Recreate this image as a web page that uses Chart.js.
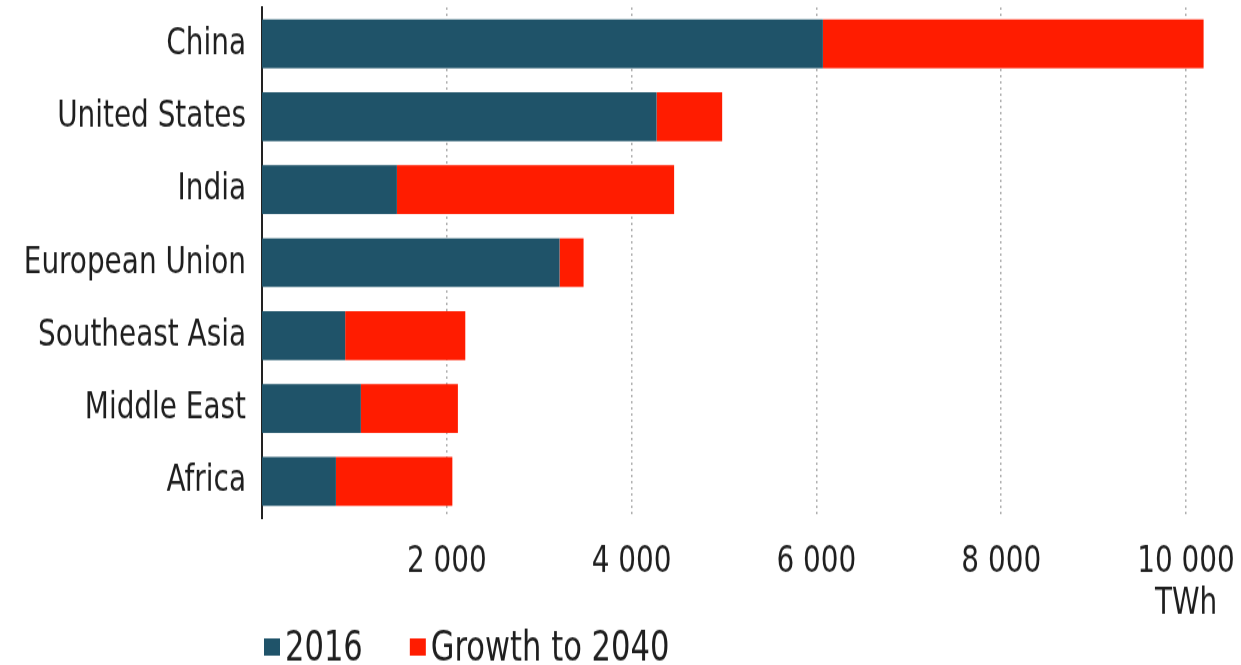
<!DOCTYPE html>
<html>
<head>
<meta charset="utf-8">
<script src="https://cdn.jsdelivr.net/npm/chart.js@4"></script>
<style>
  html, body { margin: 0; padding: 0; background: #fff; }
  #page { width: 1241px; height: 665px; }
  /* the chart is drawn a little short and stretched tall, like the printed figure */
  #wrap { width: 1241px; height: 541px; transform: scaleY(1.23); transform-origin: 0 0; }
  canvas { display: block; }
</style>
</head>
<body>
<div id="page"><div id="wrap"><canvas id="chart" width="1241" height="541"></canvas></div></div>
<script>
// Electricity demand by region, TWh
const regions = ['China', 'United States', 'India', 'European Union', 'Southeast Asia', 'Middle East', 'Africa'];
const demand2016 = [6070, 4270, 1460, 3220, 900, 1070, 800];
const growthTo2040 = [4120, 710, 3000, 260, 1300, 1050, 1260];
const xTicks = [2000, 4000, 6000, 8000, 10000];
const unitLabel = 'TWh';

const FONT = "'DejaVu Sans Condensed', 'Liberation Sans', sans-serif";
const FONT_SIZE = 31;
const LEGEND_SIZE = 34;
const TEXT = '#1e1e1e';

function fmt(v) {
    return String(v).replace(/\B(?=(\d{3})+$)/g, ' ');
}

// legend + unit label drawn under the axis
const extras = {
    id: 'extras',
    afterDraw(chart) {
        const c = chart.ctx;
        const x = chart.scales.x;
        c.save();
        c.fillStyle = TEXT;
        c.font = FONT_SIZE + 'px ' + FONT;
        c.textBaseline = 'middle';
        c.textAlign = 'center';
        c.fillText(unitLabel, x.getPixelForValue(10000), 491);

        c.font = LEGEND_SIZE + 'px ' + FONT;
        c.textAlign = 'left';
        let lx = 264;
        chart.data.datasets.forEach(ds => {
            c.fillStyle = ds.backgroundColor;
            c.fillRect(lx, 519, 16, 14);
            c.fillStyle = TEXT;
            c.fillText(ds.label, lx + 21, 528);
            lx += 21 + c.measureText(ds.label).width + 47;
        });
        c.restore();
    }
};

new Chart(document.getElementById('chart'), {
    type: 'bar',
    data: {
        labels: regions,
        datasets: [
            { label: '2016', data: demand2016, backgroundColor: '#1f5369' },
            { label: 'Growth to 2040', data: growthTo2040, backgroundColor: '#ff1c00' }
        ]
    },
    options: {
        indexAxis: 'y',
        responsive: false,
        animation: false,
        devicePixelRatio: 1,
        layout: { padding: { top: 6, right: 18, left: 0, bottom: 0 } },
        categoryPercentage: 1,
        barPercentage: 0.67,
        plugins: {
            legend: { display: false },
            tooltip: { enabled: false }
        },
        scales: {
            x: {
                stacked: true,
                min: 0,
                max: 10400,
                afterFit(s) {
                    s.height = 120;
                    s.paddingLeft = 0;
                    s.paddingRight = 0;
                },
                afterBuildTicks(s) { s.ticks = xTicks.map(v => ({ value: v })); },
                border: { display: false, dash: [2, 3] },
                grid: {
                    color: '#b0b0b0',
                    lineWidth: 1.5,
                    drawTicks: false
                },
                ticks: {
                    padding: 17,
                    color: TEXT,
                    font: { family: FONT, size: FONT_SIZE },
                    callback: v => fmt(v)
                }
            },
            y: {
                stacked: true,
                afterFit(s) {
                    s.width = 262;
                    s.paddingTop = 0;
                    s.paddingBottom = 0;
                },
                grid: { display: false },
                border: { display: true, color: '#222', width: 2 },
                ticks: {
                    padding: 8,
                    color: TEXT,
                    font: { family: FONT, size: FONT_SIZE }
                }
            }
        }
    },
    plugins: [extras]
});
</script>
</body>
</html>
